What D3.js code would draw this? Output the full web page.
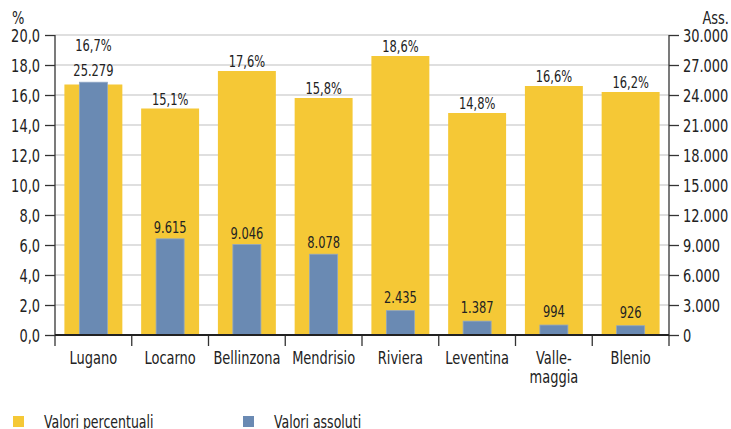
<!DOCTYPE html>
<html>
<head>
<meta charset="utf-8">
<script src="https://cdn.jsdelivr.net/npm/d3@7"></script>
<style>
  html, body { margin: 0; padding: 0; background: #fff; overflow: hidden; }
  svg { display: block; font-family: "DejaVu Sans Condensed", "DejaVu Sans", sans-serif; }
  .tick text { fill: #222; }
</style>
</head>
<body>
<div id="graph"></div>
<script>
//----------------------------------------------------------
// data
var g_regions = ["Lugano", "Locarno", "Bellinzona", "Mendrisio", "Riviera", "Leventina", "Valle-|maggia", "Blenio"];
var g_percent = [16.7, 15.1, 17.6, 15.8, 18.6, 14.8, 16.6, 16.2];
var g_absolute = [25279, 9615, 9046, 8078, 2435, 1387, 994, 926];
var g_pct_ticks = [0, 2, 4, 6, 8, 10, 12, 14, 16, 18, 20];
var g_abs_ticks = [0, 3000, 6000, 9000, 12000, 15000, 18000, 21000, 24000, 27000, 30000];

var g_yellow = "#f5c836";
var g_blue = "#6a8ab3";

// the reference uses a condensed face; squeeze DejaVu Condensed to match
const squeeze = 0.85;

//----------------------------------------------------------
var g_svg = d3.select("#graph")
  .append("svg")
    .attr("width", 731)
    .attr("height", 429);

const plot_left = 55, plot_right = 669, plot_top = 35, plot_bottom = 335;

function Label(parent, x, y, str, size, anchor, sx) {
    return parent.append("text")
        .attr("transform", "translate(" + x + "," + y + ") scale(" + (sx || squeeze) + ",1)")
        .attr("font-size", size)
        .attr("fill", "#222")
        .attr("text-anchor", anchor || "middle")
        .text(str);
}

var x = d3.scaleBand()
    .domain(g_regions)
    .range([plot_left, plot_right])
    .paddingInner(0.245)
    .paddingOuter(0.1225);

var y_pct = d3.scaleLinear().domain([0, 20]).range([plot_bottom, plot_top]);
var y_abs = d3.scaleLinear().domain([0, 30000]).range([plot_bottom, plot_top]);

var fmt_pct = function (v) { return d3.format(".1f")(v).replace(".", ","); };
var fmt_abs = function (v) { return v === 0 ? "0" : d3.format(",d")(v).replace(/,/g, "."); };

// grid lines
g_svg.append("g")
  .selectAll("line")
  .data(g_pct_ticks.slice(1))
  .join("line")
    .attr("x1", plot_left)
    .attr("x2", plot_right)
    .attr("y1", function (d) { return y_pct(d); })
    .attr("y2", function (d) { return y_pct(d); })
    .attr("stroke", "#d4d4d4")
    .attr("stroke-width", 1.3);

// percent bars
g_svg.append("g")
  .selectAll("rect")
  .data(g_regions)
  .join("rect")
    .attr("x", function (d) { return x(d); })
    .attr("width", x.bandwidth())
    .attr("y", function (d, i) { return y_pct(g_percent[i]); })
    .attr("height", function (d, i) { return plot_bottom - y_pct(g_percent[i]); })
    .attr("fill", g_yellow);

// absolute bars
const inner = 28;
g_svg.append("g")
  .selectAll("rect")
  .data(g_regions)
  .join("rect")
    .attr("x", function (d) { return x(d) + (x.bandwidth() - inner) / 2; })
    .attr("width", inner)
    .attr("y", function (d, i) { return y_abs(g_absolute[i]); })
    .attr("height", function (d, i) { return plot_bottom - y_abs(g_absolute[i]); })
    .attr("fill", g_blue)
    .attr("stroke", "#8ea6c6")
    .attr("stroke-width", 0.8);

// value labels
var labels = g_svg.append("g");

g_regions.forEach(function (d, i) {
    const cx = x(d) + x.bandwidth() / 2;
    const abs_top = y_abs(g_absolute[i]);
    const abs_base = abs_top - (abs_top > 300 ? 8 : 6);
    let pct_base = y_pct(g_percent[i]) - 4;
    if (pct_base > abs_base - 18) {
        pct_base = abs_base - 25;
    }
    Label(labels, cx, abs_base, fmt_abs(g_absolute[i]), 15);
    Label(labels, cx, pct_base, fmt_pct(g_percent[i]) + "%", 15);
});

// left axis
var ax_left = g_svg.append("g")
    .attr("transform", "translate(" + plot_left + ",0)")
    .call(d3.axisLeft(y_pct).tickValues(g_pct_ticks).tickFormat(fmt_pct).tickSize(10).tickPadding(7.6));

// right axis
var ax_right = g_svg.append("g")
    .attr("transform", "translate(" + plot_right + ",0)")
    .call(d3.axisRight(y_abs).tickValues(g_abs_ticks).tickFormat(fmt_abs).tickSize(10).tickPadding(6.4));

[ax_left, ax_right].forEach(function (ax) {
    ax.attr("font-family", null);
    ax.select(".domain").attr("stroke", "#333").attr("stroke-width", 1.3)
        .attr("d", "M0," + plot_top + "V" + plot_bottom);
    ax.selectAll(".tick line").attr("stroke", "#333").attr("stroke-width", 1.3);
    ax.selectAll(".tick text")
        .attr("font-size", 17)
        .attr("dy", "0.38em")
        .attr("transform", "scale(" + squeeze + ",1)");
});

// bottom axis: ticks at category boundaries
var boundaries = d3.range(g_regions.length + 1).map(function (k) {
    return plot_left + k * (plot_right - plot_left) / g_regions.length;
});
g_svg.append("g")
  .selectAll("line")
  .data(boundaries)
  .join("line")
    .attr("x1", function (d) { return d; })
    .attr("x2", function (d) { return d; })
    .attr("y1", plot_bottom)
    .attr("y2", plot_bottom + 11)
    .attr("stroke", "#333")
    .attr("stroke-width", 1.3);

g_svg.append("line")
    .attr("x1", plot_left)
    .attr("x2", plot_right)
    .attr("y1", plot_bottom)
    .attr("y2", plot_bottom)
    .attr("stroke", "#222")
    .attr("stroke-width", 2);

var cat = g_svg.append("g");
g_regions.forEach(function (d) {
    const cx = x(d) + x.bandwidth() / 2;
    d.split("|").forEach(function (line, j) {
        Label(cat, cx, 364 + j * 19, line, 17);
    });
});

// axis titles
Label(g_svg, 12, 24, "%", 17, "start");
Label(g_svg, 729, 24, "Ass.", 17, "end");

// legend
var legend = [["Valori percentuali", g_yellow, 13], ["Valori assoluti", g_blue, 243]];
legend.forEach(function (l) {
    g_svg.append("rect")
        .attr("x", l[2])
        .attr("y", 416)
        .attr("width", 11)
        .attr("height", 11)
        .attr("fill", l[1]);
    Label(g_svg, l[2] + 31, 428, l[0], 17, "start", 0.82);
});
</script>
</body>
</html>
